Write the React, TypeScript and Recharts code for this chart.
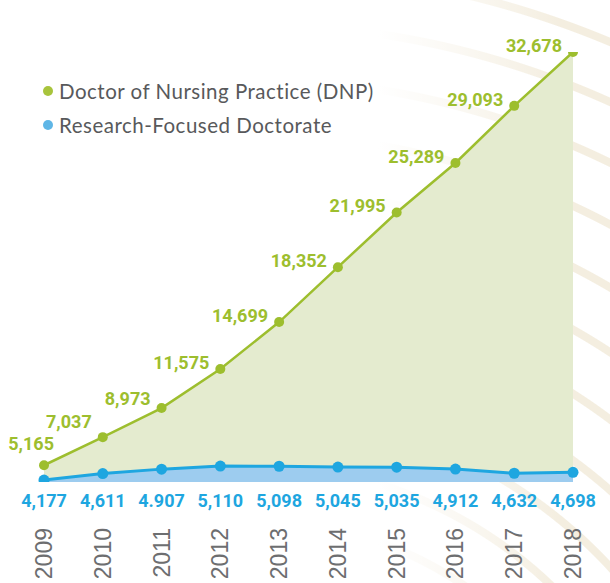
import React from 'react';
import { AreaChart, Area, XAxis, YAxis, LabelList } from 'recharts';

const years = ['2009', '2010', '2011', '2012', '2013', '2014', '2015', '2016', '2017', '2018'];
const dnp = [5165, 7037, 8973, 11575, 14699, 18352, 21995, 25289, 29093, 32678];
const research = [4177, 4611, 4907, 5110, 5098, 5045, 5035, 4912, 4632, 4698];
// labels as printed under the chart (the 2011 one uses a dot in the source)
const researchLabels = ['4,177', '4,611', '4.907', '5,110', '5,098', '5,045', '5,035', '4,912', '4,632', '4,698'];

const seriesNames = ['Doctor of Nursing Practice (DNP)', 'Research-Focused Doctorate'];

const data = years.map((year, i) => ({ year, dnp: dnp[i], research: research[i] }));

const GREEN = '#9dbe2e';
const BLUE = '#1ea6e0';

const GreenLabel = (props: any) => {
  const { x, y, value, index } = props;
  // the first few labels sit higher; the first one goes above its point so it stays on the page
  const lift = Math.max(0, 15 - 6 * index);
  return (
    <text x={index === 0 ? x + 10 : x - 11} y={y - lift} textAnchor="end" fill={GREEN}
      style={{ fontFamily: 'Roboto', fontWeight: 700, fontSize: 18 }}>
      {value.toLocaleString('en-US')}
    </text>
  );
};

const YearTick = (props: any) => {
  const { x, y, payload, index } = props;
  return (
    <g>
      <text x={x} y={y + 25} textAnchor="middle" fill={BLUE}
        style={{ fontFamily: 'Roboto', fontWeight: 700, fontSize: 18 }}>
        {researchLabels[index]}
      </text>
      <text transform={`translate(${x + 8},${y + 46}) rotate(-90)`} textAnchor="end" fill="#6d6e70"
        style={{ fontFamily: 'Liberation Sans', fontSize: 23 }}>
        {payload.value}
      </text>
    </g>
  );
};

const LegendBox = () => (
  <div style={{
    position: 'absolute', left: 43, top: 74, fontFamily: 'Lato', fontSize: 20.5, letterSpacing: 0.5,
    color: '#58595b', whiteSpace: 'nowrap',
  }}>
    {seriesNames.map((name, i) => (
      <div key={name} style={{ display: 'flex', alignItems: 'center', height: 34 }}>
        <span style={{
          width: 10, height: 10, borderRadius: 5, marginRight: 6, flexShrink: 0,
          background: i === 0 ? '#a8c43c' : '#5fb6e6',
        }} />
        {name}
      </div>
    ))}
  </div>
);

// faint decorative arcs behind the chart, only showing on the right
const backdrop =
  'linear-gradient(to right, #ffffff 0%, #ffffff 62%, rgba(255,255,255,0.6) 76%, rgba(255,255,255,0) 92%), ' +
  'repeating-radial-gradient(circle at 250px 900px, #ffffff 0px, #ffffff 46px, #f4eee0 47px, #f4eee0 54px, #ffffff 55px)';

export default function App() {
  return (
    <div style={{ position: 'absolute', left: 0, top: 0, width: 610, height: 583, background: backdrop }}>
      <AreaChart width={610} height={583} data={data}
        margin={{ top: 52, right: 37, left: 44, bottom: 0 }}>
        <XAxis dataKey="year" axisLine={false} tickLine={false} tickSize={0} tickMargin={0}
          height={101} interval={0} tick={<YearTick />} />
        <YAxis hide domain={[4050, 32678]} allowDataOverflow />
        <Area type="linear" dataKey="dnp" stroke={GREEN} strokeWidth={2.5} fill="#e4ebcf" fillOpacity={1}
          dot={{ r: 5, fill: GREEN, stroke: 'none' }} activeDot={false} isAnimationActive={false}>
          <LabelList dataKey="dnp" content={<GreenLabel />} />
        </Area>
        <Area type="linear" dataKey="research" stroke={BLUE} strokeWidth={3} fill="#9dccef" fillOpacity={1}
          dot={{ r: 5.5, fill: BLUE, stroke: 'none' }} activeDot={false} isAnimationActive={false} />
      </AreaChart>
      <LegendBox />
    </div>
  );
}
